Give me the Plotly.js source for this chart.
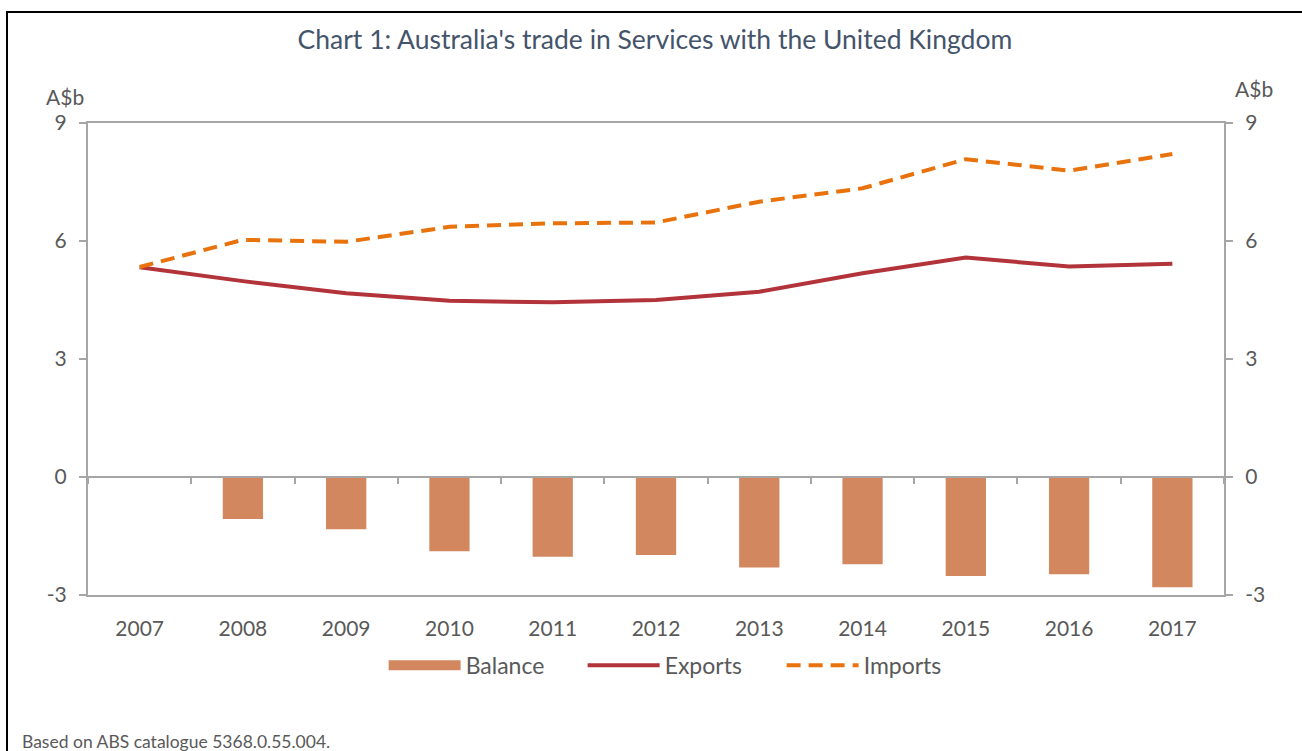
<!DOCTYPE html>
<html>
<head>
<meta charset="utf-8">
<script src="https://cdn.plot.ly/plotly-3.0.1.min.js"></script>
<style>
  html, body { margin: 0; padding: 0; background: #fff; }
  #frame { position: absolute; left: 6px; top: 11px; width: 1310px; height: 760px; border: 2px solid #000; box-sizing: border-box; pointer-events: none; z-index: 10; }
  #chart { position: absolute; left: 0; top: 0; width: 1302px; height: 751px; }
</style>
</head>
<body>
<div id="chart"></div>
<div id="frame"></div>
<script>
const years = ['2007','2008','2009','2010','2011','2012','2013','2014','2015','2016','2017'];
const balance = [null, -1.07, -1.33, -1.89, -2.03, -1.98, -2.30, -2.22, -2.52, -2.47, -2.80];
const exportsVals = [5.33, 4.98, 4.67, 4.48, 4.44, 4.50, 4.71, 5.18, 5.58, 5.35, 5.42];
const importsVals = [5.34, 6.03, 5.98, 6.36, 6.45, 6.47, 7.00, 7.34, 8.08, 7.79, 8.21];
const yTicks = [-3, 0, 3, 6, 9];
const yTickText = ['-3', '0', '3', '6', '9'];

const font = 'Lato, "Open Sans", sans-serif';
const textColor = '#595959';
const axisColor = '#a6a6a6';
const barColor = '#D2875F';

const traces = [
  { type: 'bar', name: 'Balance', x: years, y: balance, xaxis: 'x2', yaxis: 'y',
    marker: { color: barColor }, width: 0.39, showlegend: false },
  // legend entry for Balance drawn as a wide patch
  { type: 'scatter', mode: 'lines', name: 'Balance', x: [years[0]], y: [null],
    line: { color: barColor, width: 14 }, hoverinfo: 'skip' },
  { type: 'scatter', mode: 'lines', name: 'Exports', x: years, y: exportsVals,
    line: { color: '#B3333A', width: 4 } },
  { type: 'scatter', mode: 'lines', name: 'Imports', x: years, y: importsVals,
    line: { color: '#E8720C', width: 4, dash: '14px,8px' } },
  // dummy trace so the right axis is drawn
  { type: 'scatter', x: [years[0]], y: [null], yaxis: 'y2', showlegend: false, hoverinfo: 'skip' }
];

const layout = {
  width: 1302, height: 751,
  margin: { l: 88, r: 78, t: 123, b: 156 },
  paper_bgcolor: '#fff', plot_bgcolor: '#fff',
  font: { family: font, color: textColor, size: 20 },
  title: { text: "Chart 1: Australia's trade in Services with the United Kingdom",
    font: { family: font, size: 26.5, color: '#44546A' }, x: 0.503, xanchor: 'center', y: 0.947, yanchor: 'middle' },
  showlegend: true,
  legend: { orientation: 'h', x: 0.523, xanchor: 'center', y: -0.149, yanchor: 'middle',
    font: { size: 23, color: textColor }, itemwidth: 72, entrywidth: 112, entrywidthmode: 'pixels',
    traceorder: 'normal' },
  xaxis: { type: 'category', range: [-0.5, 10.5], showline: true, linecolor: axisColor, linewidth: 2,
    mirror: true, ticks: 'outside', ticklen: 0, tickcolor: '#fff', showgrid: false, zeroline: false,
    ticklabelstandoff: 14, tickfont: { size: 21, color: textColor } },
  xaxis2: { type: 'category', range: [-0.5, 10.5], overlaying: 'x', anchor: 'free', position: 0.25,
    showline: true, linecolor: axisColor, linewidth: 2, ticks: 'outside', tickson: 'boundaries',
    ticklen: 6, tickcolor: axisColor, tickwidth: 2, showticklabels: false, showgrid: false, zeroline: false },
  yaxis: { range: [-3, 9], tickmode: 'array', tickvals: yTicks, ticktext: yTickText, showline: true,
    linecolor: axisColor, linewidth: 2, ticks: 'outside', ticklen: 7, tickcolor: axisColor, tickwidth: 2,
    showgrid: false, zeroline: false, ticklabelstandoff: 8, tickfont: { size: 21, color: textColor } },
  yaxis2: { range: [-3, 9], tickmode: 'array', tickvals: yTicks, ticktext: yTickText, overlaying: 'y',
    side: 'right', showline: true, linecolor: axisColor, linewidth: 2, ticks: 'outside', ticklen: 7,
    tickcolor: axisColor, tickwidth: 2, showgrid: false, zeroline: false, ticklabelstandoff: 8,
    tickfont: { size: 21, color: textColor } },
  annotations: [
    { text: 'A$b', xref: 'paper', yref: 'paper', x: -0.02, y: 1.057, xanchor: 'center', yanchor: 'middle',
      showarrow: false, font: { size: 21, color: textColor } },
    { text: 'A$b', xref: 'paper', yref: 'paper', x: 1.026, y: 1.074, xanchor: 'center', yanchor: 'middle',
      showarrow: false, font: { size: 21, color: textColor } },
    { text: 'Based on ABS catalogue 5368.0.55.004.', xref: 'paper', yref: 'paper', x: -0.06, y: -0.31,
      xanchor: 'left', yanchor: 'middle', showarrow: false, font: { size: 17.5, color: textColor } }
  ]
};

Plotly.newPlot('chart', traces, layout, { displayModeBar: false, staticPlot: true });
</script>
</body>
</html>
